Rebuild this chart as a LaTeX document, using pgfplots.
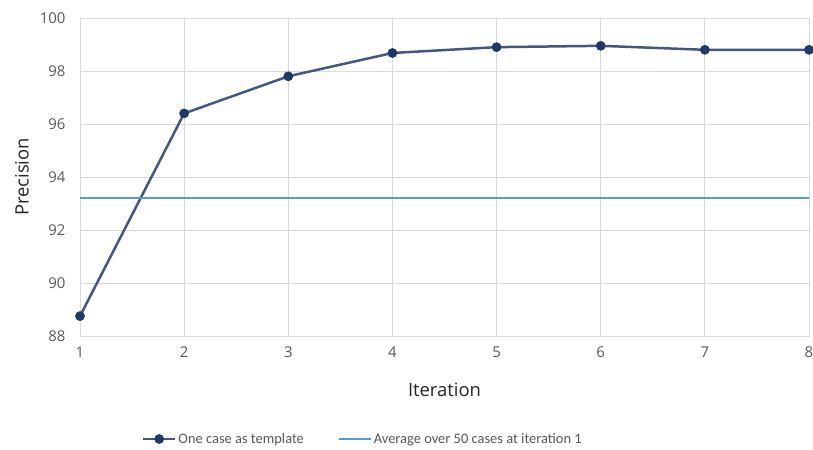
\documentclass[border=0pt]{standalone}
\usepackage{pgfplots}
\pgfplotsset{compat=1.18}
\usepackage{fontspec}
\setmainfont{Open Sans}
\newfontfamily\legfont{Carlito}
\definecolor{navy}{RGB}{31,56,100}
\definecolor{navyl}{RGB}{66,88,128}
\definecolor{lblue}{RGB}{91,155,213}
\definecolor{gridc}{RGB}{217,217,217}
\definecolor{txt}{RGB}{89,89,89}
\begin{document}
\begin{tikzpicture}
\useasboundingbox (-80bp,-114bp) rectangle (733bp,336bp);
\begin{axis}[
  at={(0,0)}, anchor=south west,
  scale only axis, width=729bp, height=318bp,
  xmin=1, xmax=8, ymin=88, ymax=100,
  xtick={1,...,8}, ytick={88,90,...,100},
  grid=major, major grid style={gridc, line width=0.9pt},
  axis line style={gridc, line width=0.9pt},
  tick style={draw=none},
  /pgf/number format/assume math mode=true,
  tick label style={font=\fontsize{15}{18}\selectfont, text=txt},
  xticklabel style={yshift=-7bp},
  yticklabel style={xshift=-11bp},
  xlabel={Iteration}, ylabel={Precision},
  label style={font=\fontsize{18.5}{22}\selectfont, text=black!85},
  xlabel style={at={(axis description cs:0.5,-0.17)}, anchor=center},
  ylabel style={at={(axis description cs:-0.0796,0.5)}, anchor=center},
  legend style={at={(axis description cs:0.388,-0.324)}, anchor=center, draw=none,
    font=\legfont\fontsize{14.5}{17}\selectfont, text=txt,
    legend columns=2, /tikz/every even column/.append style={column sep=32bp},
    nodes={inner xsep=2bp}},
  legend cell align=left,
  legend image code/.code={\draw[mark repeat=2,mark phase=2] plot coordinates {(0bp,0bp) (16bp,0bp) (32bp,0bp)};},
]
\addplot[navyl, line width=2.5pt, mark=*, mark size=4.6bp, mark options={fill=navy, draw=navy, line width=0.5pt}]
  coordinates {(1,88.75) (2,96.4) (3,97.8) (4,98.68) (5,98.9) (6,98.95) (7,98.8) (8,98.8)};
\addlegendentry{One case as template}
\addplot[lblue, line width=1.9pt] coordinates {(1,93.2) (8,93.2)};
\addlegendentry{Average over 50 cases at iteration 1}
\end{axis}
\end{tikzpicture}
\end{document}
